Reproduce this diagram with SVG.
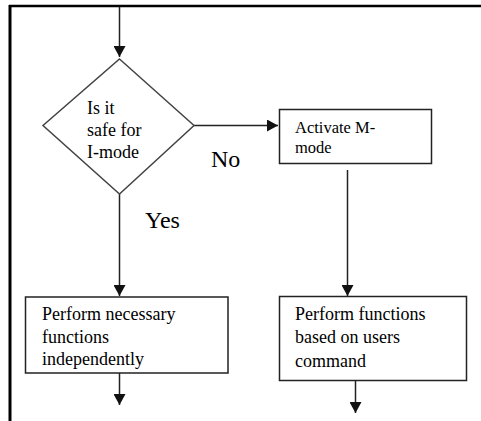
<svg xmlns="http://www.w3.org/2000/svg" width="481" height="421" viewBox="0 0 481 421">
<style>
text{font-family:'Liberation Serif','Times New Roman',serif;fill:#000}
.s{font-size:18px}
.m{font-size:16.5px}
.l{font-size:24px}
.box{fill:#fff;stroke:#222;stroke-width:1.5}
.dia{fill:#fff;stroke:#444;stroke-width:1.5}
.c{stroke:#222;stroke-width:1.5;fill:none}
</style>
<defs>
<marker id="ah" markerWidth="12" markerHeight="12" refX="11" refY="6" orient="auto" markerUnits="userSpaceOnUse">
<path d="M0,0 L11,6 L0,12 Z" fill="#111"/>
</marker>
</defs>
<rect width="481" height="421" fill="#fff"/>
<g id="frame">
<line x1="10" y1="5" x2="10" y2="421" stroke="#000" stroke-width="3"/>
<line x1="9" y1="6" x2="481" y2="6" stroke="#000" stroke-width="2.5"/>
</g>
<g id="connectors">
<line class="c" x1="119.5" y1="7" x2="119.5" y2="57" marker-end="url(#ah)"/>
<line class="c" x1="194" y1="125.5" x2="278" y2="125.5" marker-end="url(#ah)"/>
<line class="c" x1="119.5" y1="194" x2="119.5" y2="296" marker-end="url(#ah)"/>
<line class="c" x1="347.5" y1="170" x2="347.5" y2="296" marker-end="url(#ah)"/>
<line class="c" x1="119.5" y1="373" x2="119.5" y2="405" marker-end="url(#ah)"/>
<line class="c" x1="355.5" y1="381" x2="355.5" y2="413" marker-end="url(#ah)"/>
<text class="l" x="211" y="167">No</text>
<text class="l" x="145" y="228">Yes</text>
</g>
<g id="decision">
<polygon class="dia" points="119.5,59 194,125.5 119.5,194 43,125.5"/>
<text class="s" x="87" y="114">Is it</text>
<text class="s" x="87" y="136">safe for</text>
<text class="s" x="87" y="158">I-mode</text>
</g>
<g id="activate">
<rect class="box" x="279.5" y="109.5" width="152" height="54"/>
<text class="m" x="295" y="133">Activate M-</text>
<text class="m" x="295" y="153">mode</text>
</g>
<g id="independent">
<rect class="box" x="25.5" y="297" width="202.5" height="76"/>
<text class="s" x="42" y="320">Perform necessary</text>
<text class="s" x="42" y="343">functions</text>
<text class="s" x="42" y="365">independently</text>
</g>
<g id="usercmd">
<rect class="box" x="279.5" y="296.5" width="187" height="84"/>
<text class="s" x="295" y="320">Perform functions</text>
<text class="s" x="295" y="343">based on users</text>
<text class="s" x="295" y="367">command</text>
</g>
</svg>
